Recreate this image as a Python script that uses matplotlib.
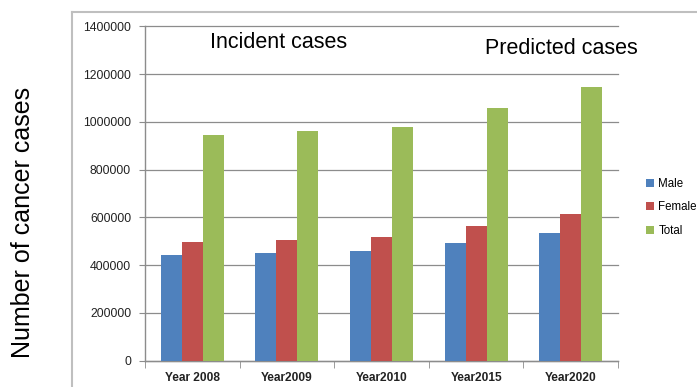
import matplotlib.pyplot as plt
import numpy as np
from matplotlib.lines import Line2D

plt.rcParams["font.family"] = ["Liberation Sans", "DejaVu Sans"]

years = ["Year 2008", "Year2009", "Year2010", "Year2015", "Year2020"]
male = [443000, 452000, 461000, 494000, 533000]
female = [498000, 506000, 516000, 562000, 614000]
total = [947000, 962000, 980000, 1060000, 1145000]

series = [("Male", male, "#4F81BD"), ("Female", female, "#C0504D"), ("Total", total, "#9BBB59")]

fig = plt.figure(figsize=(6.97, 3.87), dpi=100)
ax = fig.add_axes([145 / 697, 1 - 360.5 / 387, 473 / 697, 334 / 387])

x = np.arange(len(years))
w = 1 / 4.5
for i, (name, vals, col) in enumerate(series):
    ax.bar(x + (i - 1) * w, vals, width=w, color=col, label=name, zorder=3)

ax.set_xlim(-0.5, len(years) - 0.5)
ax.set_ylim(0, 1400000)
ax.set_yticks(np.arange(0, 1400001, 200000))
ax.set_yticklabels([f"{v}" for v in range(0, 1400001, 200000)], fontsize=8.8, color="#222222")
ax.yaxis.grid(True, color="#8c8c8c", linewidth=0.9, zorder=0)
for gl in ax.get_ygridlines():
    gl.set_clip_on(False)
ax.tick_params(axis="y", length=4, color="#8c8c8c", direction="out", pad=6)

ax.set_xticks(x)
ax.set_xticklabels(years, fontsize=8.6, fontweight="bold", color="#222222")
ax.tick_params(axis="x", which="major", length=0, pad=8)
ax.set_xticks(np.arange(-0.5, len(years)), minor=True)
ax.tick_params(axis="x", which="minor", length=5, color="#8c8c8c", direction="out")

for s in ["top", "right"]:
    ax.spines[s].set_visible(False)
for s in ["left", "bottom"]:
    ax.spines[s].set_color("#8c8c8c")
    ax.spines[s].set_linewidth(1.0)

fig.text(210 / 697, 1 - 42 / 387, "Incident cases", fontsize=15.5, va="center", ha="left")
fig.text(485 / 697, 1 - 49 / 387, "Predicted cases", fontsize=15.5, va="center", ha="left")
fig.text(23 / 697, 1 - 222 / 387, "Number of cancer cases", fontsize=18, rotation=90,
         va="center", ha="center")

leg = fig.legend(loc="upper left", bbox_to_anchor=(640 / 697, 1 - 172 / 387), frameon=False,
                 fontsize=8.3, handlelength=0.75, handleheight=0.75, handletextpad=0.35,
                 labelspacing=1.0, borderpad=0)

# outer grey frame
fig.add_artist(Line2D([72 / 697, 1], [1 - 12 / 387, 1 - 12 / 387], color="#BFBFBF", linewidth=1.5))
fig.add_artist(Line2D([72 / 697, 72 / 697], [0, 1 - 12 / 387], color="#BFBFBF", linewidth=1.5))

fig.savefig("out.png", dpi=100)
